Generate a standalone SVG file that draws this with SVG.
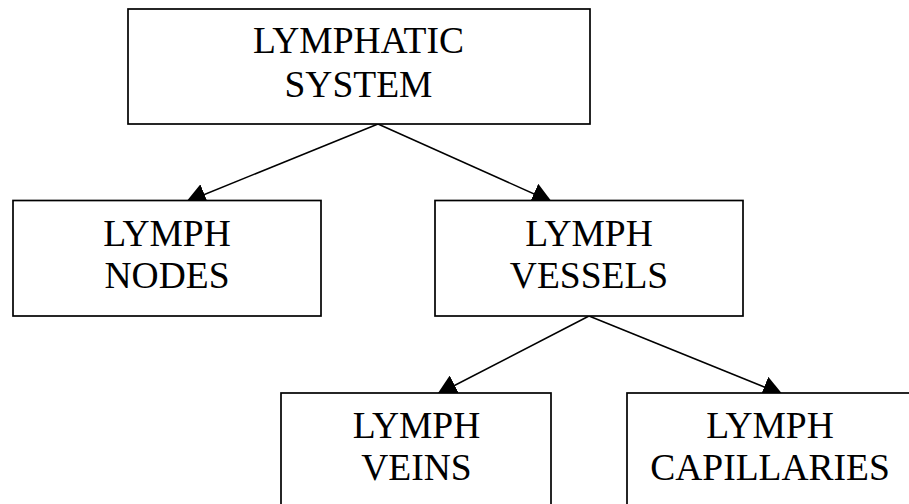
<svg xmlns="http://www.w3.org/2000/svg" width="909" height="504" viewBox="0 0 909 504">
  <style>
    .box { fill: #ffffff; stroke: #000000; stroke-width: 1.7; }
    .lbl { font-family: "Liberation Serif", "Times New Roman", serif; font-size: 37.5px; fill: #000000; text-anchor: middle; }
    .edge { stroke: #000000; stroke-width: 1.5; fill: none; marker-end: url(#arrow); }
  </style>
  <defs>
    <marker id="arrow" markerUnits="userSpaceOnUse" markerWidth="20" markerHeight="22" refX="20" refY="11" orient="auto">
      <path d="M0,0 L20,11 L0,22 Z" fill="#000000"/>
    </marker>
  </defs>
  <rect width="909" height="504" fill="#ffffff"/>
  <g id="connectors">
    <line class="edge" x1="378" y1="124" x2="186" y2="202"/>
    <line class="edge" x1="378" y1="124" x2="552" y2="202"/>
    <line class="edge" x1="589" y1="316" x2="437" y2="394.5"/>
    <line class="edge" x1="589" y1="316" x2="782.7" y2="394.5"/>
  </g>
  <g id="node-lymphatic-system">
    <rect class="box" x="128" y="9" width="462" height="115"/>
    <text class="lbl" x="358.5" y="53">LYMPHATIC</text>
    <text class="lbl" x="358.5" y="97">SYSTEM</text>
  </g>
  <g id="node-lymph-nodes">
    <rect class="box" x="13" y="200.5" width="308" height="115.5"/>
    <text class="lbl" x="167" y="246">LYMPH</text>
    <text class="lbl" x="167" y="288">NODES</text>
  </g>
  <g id="node-lymph-vessels">
    <rect class="box" x="435" y="200.5" width="308" height="115.5"/>
    <text class="lbl" x="589" y="246">LYMPH</text>
    <text class="lbl" x="589" y="288">VESSELS</text>
  </g>
  <g id="node-lymph-veins">
    <rect class="box" x="281" y="393" width="270" height="150"/>
    <text class="lbl" x="416.5" y="438">LYMPH</text>
    <text class="lbl" x="416.5" y="480">VEINS</text>
  </g>
  <g id="node-lymph-capillaries">
    <rect class="box" x="627" y="393" width="290" height="150"/>
    <text class="lbl" x="770" y="438">LYMPH</text>
    <text class="lbl" x="770" y="480">CAPILLARIES</text>
  </g>
</svg>
